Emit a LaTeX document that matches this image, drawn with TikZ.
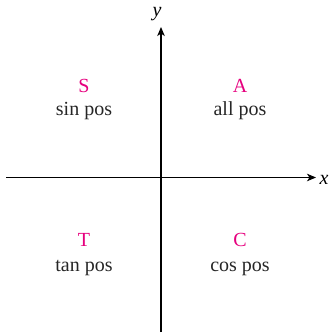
\documentclass[tikz,border=0pt]{standalone}
\usepackage{fontspec}
\setmainfont{Liberation Serif}
\usetikzlibrary{arrows.meta}
\definecolor{quadmag}{RGB}{230,0,126}
\begin{document}
\begin{tikzpicture}[x=1pt,y=1pt,
  axis/.style={line width=1.1pt,-{Stealth[length=9pt,width=7.5pt,inset=2.5pt]}},
  letter/.style={anchor=base,text=quadmag,inner sep=0pt,font=\fontsize{20}{24}\selectfont},
  desc/.style={anchor=base,text=black!85,inner sep=0pt,font=\fontsize{20}{24}\selectfont},
  axlabel/.style={inner sep=0pt,font=\fontsize{20}{24}\selectfont\itshape}]
\useasboundingbox (0,0) rectangle (330,-335);
\coordinate (xl) at (6,-177.5);
\coordinate (xr) at (316,-177.5);
\coordinate (yb) at (161,-332);
\coordinate (yt) at (161,-27);
\draw[axis] (xl) -- (xr);
\draw[axis] (yb) -- (yt);
\node[axlabel] (xlab) at (324,-180) {x};
\node[axlabel] (ylab) at (157,-14) {y};
\node[letter] (S) at (84,-92) {S};
\node[desc] (Sd) at (84,-115) {sin pos};
\node[letter] (A) at (240,-92) {A};
\node[desc] (Ad) at (240,-115) {all pos};
\node[letter] (T) at (84,-246) {T};
\node[desc] (Td) at (84,-271.5) {tan pos};
\node[letter] (C) at (240,-246) {C};
\node[desc] (Cd) at (240,-271.5) {cos pos};
\end{tikzpicture}
\end{document}
